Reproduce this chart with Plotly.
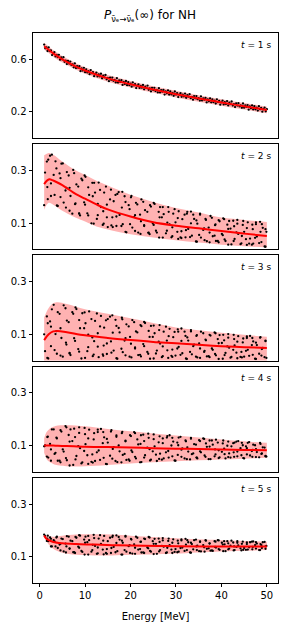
import plotly.graph_objects as go
from plotly.subplots import make_subplots

# ---------------- data ----------------
# panel 1 (t = 1 s): band / mean nodes
E_nodes1 = [1, 2, 3, 5, 8, 10, 15, 20, 25, 30, 35, 40, 45, 50]
mean1 = [0.700, 0.672, 0.645, 0.600, 0.545, 0.515, 0.455, 0.410, 0.370, 0.335, 0.302, 0.272, 0.243, 0.215]
lo1 = [0.675, 0.647, 0.620, 0.575, 0.520, 0.490, 0.430, 0.385, 0.345, 0.310, 0.277, 0.247, 0.218, 0.190]
up1 = [0.725, 0.697, 0.670, 0.625, 0.570, 0.540, 0.480, 0.435, 0.395, 0.360, 0.327, 0.297, 0.268, 0.240]

E_pts1 = [1.0, 1.25, 1.5, 1.75, 2.0, 2.25, 2.5, 2.75, 3.0, 3.25, 3.5, 3.75, 4.0, 4.25, 4.5, 4.75, 5.0, 5.25, 5.5, 5.75,
          6.0, 6.25, 6.5, 6.75, 7.0, 7.25, 7.5, 7.75, 8.0, 8.25, 8.5, 8.75, 9.0, 9.25, 9.5, 9.75, 10.0, 10.25, 10.5, 10.75,
          11.0, 11.25, 11.5, 11.75, 12.0, 12.25, 12.5, 12.75, 13.0, 13.25, 13.5, 13.75, 14.0, 14.25, 14.5, 14.75, 15.0, 15.25, 15.5, 15.75,
          16.0, 16.25, 16.5, 16.75, 17.0, 17.25, 17.5, 17.75, 18.0, 18.25, 18.5, 18.75, 19.0, 19.25, 19.5, 19.75, 20.0, 20.25, 20.5, 20.75,
          21.0, 21.25, 21.5, 21.75, 22.0, 22.25, 22.5, 22.75, 23.0, 23.25, 23.5, 23.75, 24.0, 24.25, 24.5, 24.75, 25.0, 25.25, 25.5, 25.75,
          26.0, 26.25, 26.5, 26.75, 27.0, 27.25, 27.5, 27.75, 28.0, 28.25, 28.5, 28.75, 29.0, 29.25, 29.5, 29.75, 30.0, 30.25, 30.5, 30.75,
          31.0, 31.25, 31.5, 31.75, 32.0, 32.25, 32.5, 32.75, 33.0, 33.25, 33.5, 33.75, 34.0, 34.25, 34.5, 34.75, 35.0, 35.25, 35.5, 35.75,
          36.0, 36.25, 36.5, 36.75, 37.0, 37.25, 37.5, 37.75, 38.0, 38.25, 38.5, 38.75, 39.0, 39.25, 39.5, 39.75, 40.0, 40.25, 40.5, 40.75,
          41.0, 41.25, 41.5, 41.75, 42.0, 42.25, 42.5, 42.75, 43.0, 43.25, 43.5, 43.75, 44.0, 44.25, 44.5, 44.75, 45.0, 45.25, 45.5, 45.75,
          46.0, 46.25, 46.5, 46.75, 47.0, 47.25, 47.5, 47.75, 48.0, 48.25, 48.5, 48.75, 49.0, 49.25, 49.5, 49.75, 50.0]
P_pts1 = [.712, .684, .690, .663, .690, .662, .667, .632, .646, .654, .622, .634, .616, .634, .597, .614, .599, .616, .581, .590,
          .564, .588, .568, .583, .556, .561, .539, .569, .534, .548, .535, .547, .510, .531, .514, .535, .502,
          .524, .500, .510, .487, .518, .494, .503, .472, .489, .499, .470, .485, .470, .490, .456, .475, .463, .481, .448, .458,
          .434, .461, .444, .461, .436, .443, .424, .456, .423, .439, .428, .441, .405, .428, .413, .435, .403,
          .426, .403, .414, .392, .424, .401, .411, .381, .399, .410, .382, .398, .384, .405, .372, .392, .381, .400, .368, .379,
          .356, .383, .366, .383, .359, .367, .348, .380, .348, .365, .354, .367, .332, .356, .341, .363, .332,
          .356, .333, .344, .322, .355, .332, .343, .313, .331, .342, .315, .331, .318, .339, .307, .327, .316, .335, .304, .315,
          .293, .320, .303, .320, .297, .304, .286, .318, .287, .303, .293, .306, .272, .295, .281, .303, .273,
          .296, .274, .285, .264, .296, .274, .284, .255, .273, .285, .257, .274, .260, .282, .249, .270, .259, .279, .248, .259,
          .237, .265, .248, .266, .242, .250, .231, .264, .232, .249, .238, .252, .217, .241, .227, .249, .219,
          .243, .220, .232, .210, .243, .220, .231, .202, .220, .232, .205, .221]

# sample energies shared by panels 2-5
E_a = [1.0, 1.6, 1.7, 2.3, 2.5, 3.1, 3.5, 3.8, 4.4, 4.6, 5.1, 5.7, 5.8, 6.4, 6.6, 7.2, 7.6, 7.9, 8.5, 8.7,
       9.2, 9.8, 9.9, 10.5, 10.7, 11.4, 11.7, 12.0, 12.6, 12.8, 13.3, 13.9, 14.0, 14.6, 14.8, 15.5, 15.8, 16.1, 16.7, 16.9,
       17.4, 18.0, 18.1, 18.7, 18.9, 19.6, 19.9, 20.2, 20.8, 21.0, 21.5, 22.1, 22.2, 22.8, 23.0, 23.7, 24.0, 24.3, 24.9, 25.1,
       25.6, 26.2, 26.3, 26.9, 27.1, 27.8, 28.1, 28.4, 29.0, 29.2, 29.7, 30.3, 30.4, 31.0, 31.2, 31.9, 32.2, 32.5, 33.1, 33.3,
       33.8, 34.4, 34.5, 35.1, 35.3, 36.0, 36.3, 36.6, 37.2, 37.4, 37.9, 38.5, 38.6, 39.2, 39.4, 40.1, 40.4, 40.7, 41.3, 41.5,
       42.0, 42.6, 42.7, 43.3, 43.5, 44.2, 44.5, 44.8, 45.4, 45.6, 46.1, 46.7, 46.8, 47.4, 47.6, 48.3, 48.6, 48.9, 49.5, 49.7]
E_b = [1.2, 1.8, 1.9, 2.5, 2.7, 3.3, 3.7, 4.0, 4.6, 4.8, 5.3, 5.9, 6.0, 6.6, 6.8, 7.4, 7.8, 8.1, 8.7, 8.9,
       9.4, 10.0, 10.1, 10.7, 10.9, 11.6, 11.9, 12.2, 12.8, 13.0, 13.5, 14.1, 14.2, 14.8, 15.0, 15.7, 16.0, 16.3, 16.9, 17.1,
       17.6, 18.2, 18.3, 18.9, 19.1, 19.8, 20.1, 20.4, 21.0, 21.2, 21.7, 22.3, 22.4, 23.0, 23.2, 23.9, 24.2, 24.5, 25.1, 25.3,
       25.8, 26.4, 26.5, 27.1, 27.3, 28.0, 28.3, 28.6, 29.2, 29.4, 29.9, 30.5, 30.6, 31.2, 31.4, 32.1, 32.4, 32.7, 33.3, 33.5,
       34.0, 34.6, 34.7, 35.3, 35.5, 36.2, 36.5, 36.8, 37.4, 37.6, 38.1, 38.7, 38.8, 39.4, 39.6, 40.3, 40.6, 40.9, 41.5, 41.7,
       42.2, 42.8, 42.9, 43.5, 43.7, 44.4, 44.7, 45.0, 45.6, 45.8, 46.3, 46.9, 47.0, 47.6, 47.8, 48.5, 48.8, 49.1, 49.7, 49.9]

# panel 2 (t = 2 s)
E_nodes2 = [1, 2, 3, 5, 8, 10, 12.5, 15, 20, 25, 30, 35, 40, 45, 50]
mean2 = [0.248, 0.266, 0.262, 0.244, 0.210, 0.193, 0.171, 0.152, 0.125, 0.103, 0.090, 0.080, 0.070, 0.060, 0.051]
lo2 = [0.151, 0.177, 0.170, 0.147, 0.120, 0.106, 0.087, 0.076, 0.058, 0.045, 0.035, 0.026, 0.018, 0.012, 0.007]
up2 = [0.358, 0.367, 0.360, 0.334, 0.300, 0.284, 0.261, 0.243, 0.208, 0.180, 0.157, 0.140, 0.121, 0.112, 0.104]
P2_a = [.168, .334, .237, .356, .203, .283, .335, .167, .289, .199, .327, .224, .159, .281, .234, .136, .290, .175, .239, .136,
        .269, .179, .281, .137, .236, .099, .202, .253, .116, .173, .226, .093, .145, .239, .122, .190, .091, .085, .207, .125,
        .218, .089, .159, .202, .067, .168, .096, .203, .123, .070, .171, .132, .059, .181, .092, .143, .064, .168, .099, .177,
        .071, .143, .045, .122, .161, .061, .102, .143, .046, .084, .153, .067, .119, .046, .043, .132, .073, .143, .047, .099,
        .132, .030, .110, .055, .136, .074, .035, .112, .083, .027, .120, .052, .092, .032, .111, .059, .118, .038, .094, .018,
        .079, .109, .032, .065, .098, .020, .051, .108, .039, .081, .022, .018, .094, .044, .103, .024, .067, .096, .011, .077]
P2_b = [.292, .191, .341, .251, .360, .207, .308, .165, .271, .326, .178, .234, .294, .147, .203, .302, .172, .247, .137, .129,
        .263, .170, .276, .129, .207, .253, .098, .216, .130, .254, .161, .098, .216, .170, .085, .227, .122, .183, .089, .211,
        .131, .219, .096, .180, .065, .153, .198, .083, .130, .177, .064, .107, .190, .089, .149, .063, .058, .163, .093, .173,
        .064, .122, .161, .045, .134, .071, .161, .095, .050, .136, .103, .040, .145, .069, .115, .046, .136, .078, .144, .052,
        .116, .029, .098, .132, .045, .080, .116, .031, .064, .127, .050, .095, .032, .027, .107, .054, .115, .032, .078, .108,
        .019, .088, .040, .112, .059, .023, .093, .067, .017, .103, .041, .077, .022, .096, .049, .105, .028, .082, .010, .067]

# panel 3 (t = 3 s)
E_nodes3 = [1, 2, 3, 4, 6, 10, 15, 20, 25, 30, 35, 40, 45, 50]
mean3 = [0.078, 0.100, 0.111, 0.113, 0.108, 0.096, 0.086, 0.078, 0.071, 0.066, 0.060, 0.055, 0.051, 0.048]
lo3 = [-0.03, -0.03, -0.03, -0.03, -0.03, -0.03, -0.03, -0.03, -0.03, -0.03, -0.03, -0.03, -0.03, -0.03]
up3 = [0.164, 0.200, 0.218, 0.222, 0.215, 0.195, 0.178, 0.161, 0.143, 0.126, 0.115, 0.106, 0.098, 0.091]
P3_a = [.100, .168, .010, .149, .055, .212, .101, .026, .178, .123, .015, .199, .068, .146, .029, .184, .085, .202, .044, .154,
        .008, .123, .183, .036, .099, .158, .017, .074, .179, .053, .130, .024, .018, .153, .065, .167, .030, .106, .155, .009,
        .124, .045, .163, .076, .020, .130, .090, .012, .146, .050, .107, .022, .135, .063, .147, .033, .113, .007, .090, .133,
        .027, .072, .116, .013, .054, .129, .039, .093, .018, .014, .109, .046, .119, .022, .075, .110, .008, .088, .033, .116,
        .055, .015, .094, .065, .010, .104, .037, .077, .017, .098, .046, .107, .025, .082, .006, .067, .098, .021, .054, .087,
        .011, .041, .098, .030, .072, .014, .012, .084, .037, .092, .018, .059, .086, .007, .068, .026, .089, .044, .013, .074]
P3_b = [.036, .142, .008, .129, .195, .040, .112, .184, .019, .086, .210, .061, .152, .027, .021, .178, .075, .196, .034, .123,
        .180, .010, .142, .051, .187, .088, .023, .151, .104, .013, .170, .057, .125, .025, .158, .073, .172, .038, .132, .007,
        .107, .157, .032, .085, .138, .015, .064, .154, .046, .111, .021, .016, .131, .055, .143, .026, .090, .132, .008, .104,
        .038, .135, .065, .017, .110, .076, .010, .121, .042, .089, .019, .110, .052, .122, .028, .094, .006, .076, .111, .024,
        .061, .097, .012, .046, .110, .033, .080, .016, .013, .095, .041, .104, .020, .066, .097, .007, .077, .029, .101, .049,
        .014, .082, .058, .009, .093, .033, .069, .015, .086, .041, .094, .022, .073, .006, .059, .087, .019, .048, .076, .010]

# panel 4 (t = 4 s)
E_nodes4 = [1, 1.5, 2, 3, 4, 6, 10, 15, 20, 25, 30, 35, 40, 45, 50]
mean4 = [0.100, 0.100, 0.100, 0.100, 0.099, 0.098, 0.095, 0.094, 0.092, 0.090, 0.088, 0.087, 0.085, 0.083, 0.082]
lo4 = [0.072, 0.050, 0.040, 0.030, 0.025, 0.021, 0.021, 0.026, 0.032, 0.036, 0.040, 0.044, 0.047, 0.050, 0.053]
up4 = [0.128, 0.150, 0.160, 0.171, 0.176, 0.177, 0.173, 0.163, 0.154, 0.146, 0.138, 0.130, 0.123, 0.116, 0.110]
P4_a = [.097, .058, .132, .106, .042, .161, .072, .127, .042, .158, .085, .174, .052, .140, .024, .117, .164, .047, .098, .148,
        .032, .079, .167, .063, .127, .038, .035, .147, .074, .160, .045, .109, .151, .030, .125, .061, .158, .087, .041, .133,
        .100, .036, .147, .068, .116, .047, .139, .081, .151, .057, .123, .036, .106, .141, .054, .092, .129, .043, .078, .142,
        .065, .112, .049, .046, .127, .074, .136, .054, .100, .129, .043, .111, .064, .133, .084, .051, .116, .093, .047, .126,
        .070, .103, .054, .120, .078, .127, .062, .108, .048, .096, .119, .059, .085, .111, .052, .076, .119, .067, .099, .056,
        .054, .109, .074, .115, .059, .090, .110, .052, .097, .066, .113, .079, .057, .101, .086, .055, .106, .070, .092, .060]
P4_b = [.100, .134, .054, .085, .161, .068, .130, .042, .036, .153, .077, .169, .044, .115, .161, .026, .132, .060, .169, .090,
        .036, .143, .105, .030, .160, .066, .123, .041, .151, .081, .163, .053, .131, .029, .111, .153, .050, .094, .138, .037,
        .078, .152, .064, .118, .045, .042, .136, .075, .147, .051, .104, .139, .037, .117, .063, .145, .086, .046, .124, .097,
        .041, .135, .069, .109, .051, .130, .079, .139, .059, .115, .042, .101, .130, .057, .089, .119, .048, .077, .129, .067,
        .105, .054, .051, .117, .074, .125, .057, .095, .119, .048, .103, .066, .122, .082, .055, .108, .088, .051, .115, .070,
        .097, .057, .111, .077, .117, .063, .101, .051, .090, .110, .062, .083, .103, .056, .075, .110, .068, .093, .059, .058]

# panel 5 (t = 5 s)
E_nodes5 = [1, 1.5, 2, 3, 5, 8, 12, 16, 20, 26, 30, 40, 50]
mean5 = [0.181, 0.168, 0.163, 0.156, 0.151, 0.148, 0.146, 0.144, 0.143, 0.141, 0.140, 0.139, 0.139]
lo5 = [0.176, 0.160, 0.146, 0.130, 0.115, 0.107, 0.105, 0.105, 0.107, 0.109, 0.112, 0.120, 0.125]
up5 = [0.184, 0.180, 0.178, 0.176, 0.180, 0.184, 0.185, 0.184, 0.180, 0.174, 0.170, 0.163, 0.157]
P5_a = [.184, .160, .169, .173, .139, .163, .139, .176, .146, .124, .167, .150, .116, .176, .132, .159, .117, .175, .138, .182,
        .122, .165, .108, .155, .179, .119, .145, .171, .111, .135, .182, .127, .161, .114, .111, .172, .133, .180, .117, .152,
        .175, .108, .161, .125, .179, .140, .114, .165, .147, .111, .172, .129, .156, .116, .169, .135, .175, .122, .159, .110,
        .149, .169, .120, .141, .162, .114, .134, .169, .127, .153, .118, .117, .161, .133, .166, .122, .146, .163, .116, .153,
        .128, .165, .139, .121, .156, .144, .119, .161, .132, .150, .124, .159, .137, .163, .129, .153, .121, .147, .159, .128,
        .142, .154, .124, .137, .159, .132, .149, .126, .126, .154, .136, .157, .128, .144, .155, .125, .148, .133, .156, .139]
P5_b = [.179, .180, .159, .168, .139, .158, .173, .133, .149, .169, .120, .139, .178, .130, .161, .117, .114, .172, .134, .180,
        .118, .153, .176, .108, .163, .125, .183, .141, .113, .169, .149, .109, .179, .129, .159, .114, .175, .137, .181, .121,
        .165, .108, .153, .176, .119, .144, .168, .112, .134, .176, .127, .157, .116, .114, .167, .132, .173, .119, .149, .168,
        .111, .156, .125, .171, .138, .116, .160, .144, .114, .166, .129, .151, .119, .162, .135, .168, .125, .155, .115, .148,
        .163, .125, .142, .158, .120, .136, .163, .130, .151, .123, .122, .157, .135, .162, .126, .146, .159, .121, .151, .131,
        .161, .139, .125, .153, .143, .124, .157, .133, .148, .127, .155, .137, .158, .131, .150, .125, .144, .155, .130, .141]

times = [1, 2, 3, 4, 5]
x_ticks = [0, 10, 20, 30, 40, 50]

# ---------------- figure ----------------
panels = [
    (E_nodes1, lo1, up1, mean1, [(E_pts1, P_pts1)]),
    (E_nodes2, lo2, up2, mean2, [(E_a, P2_a), (E_b, P2_b)]),
    (E_nodes3, lo3, up3, mean3, [(E_a, P3_a), (E_b, P3_b)]),
    (E_nodes4, lo4, up4, mean4, [(E_a, P4_a), (E_b, P4_b)]),
    (E_nodes5, lo5, up5, mean5, [(E_a, P5_a), (E_b, P5_b)]),
]

fig = make_subplots(rows=5, cols=1, shared_xaxes=True, vertical_spacing=6 / 550)

FONT = "DejaVu Sans"
for i, (En, lo, up, mn, pts) in enumerate(panels):
    r = i + 1
    fig.add_trace(go.Scatter(x=En, y=lo, mode="lines", line=dict(width=0, shape="spline"),
                             hoverinfo="skip", showlegend=False), row=r, col=1)
    fig.add_trace(go.Scatter(x=En, y=up, mode="lines", line=dict(width=0, shape="spline"),
                             fill="tonexty", fillcolor="rgba(255,0,0,0.3)",
                             hoverinfo="skip", showlegend=False), row=r, col=1)
    for ex, py in pts:
        fig.add_trace(go.Scatter(x=ex, y=py, mode="markers",
                                 marker=dict(size=2.3, color="black", line=dict(width=0)),
                                 showlegend=False), row=r, col=1)
    fig.add_trace(go.Scatter(x=En, y=mn, mode="lines", line=dict(color="red", width=2, shape="spline"),
                             showlegend=False), row=r, col=1)
    xr = "x domain" if r == 1 else f"x{r} domain"
    yr = "y domain" if r == 1 else f"y{r} domain"
    fig.add_annotation(text=f"<i>t</i> = {times[i]} s", xref=xr, yref=yr, x=0.98, y=0.89,
                       xanchor="right", yanchor="middle", showarrow=False,
                       font=dict(family=FONT, size=9, color="black"))

axis_common = dict(showline=True, mirror=True, linecolor="black", linewidth=0.8,
                   showgrid=False, zeroline=False)
fig.update_xaxes(range=[-1.45, 52.45], tickvals=x_ticks, ticks="", **axis_common)
fig.update_xaxes(row=5, col=1, ticks="outside", ticklen=3.5, tickwidth=0.8, tickcolor="black",
                 showticklabels=True, tickfont=dict(family=FONT, size=10, color="black"),
                 title=dict(text="Energy [MeV]", font=dict(family=FONT, size=10, color="black"), standoff=12))
fig.update_yaxes(ticks="outside", ticklen=3.5, tickwidth=0.8, tickcolor="black",
                 tickfont=dict(family=FONT, size=10, color="black"), **axis_common)
fig.update_yaxes(row=1, col=1, range=[0, 0.8], tickvals=[0.2, 0.6], ticktext=["0.2", "0.6"])
for r in range(2, 6):
    fig.update_yaxes(row=r, col=1, range=[0, 0.4], tickvals=[0.1, 0.3], ticktext=["0.1", "0.3"])

fig.update_layout(
    width=287, height=630,
    margin=dict(l=33, r=9, t=33, b=47),
    paper_bgcolor="white", plot_bgcolor="white",
    font=dict(family=FONT, color="black"),
    title=dict(text="<i>P</i><sub>ν̄ₑ→ν̄ₑ</sub>(∞) for NH", x=150 / 287, xanchor="center",
               y=1 - 15 / 630, yanchor="middle", font=dict(family=FONT, size=12, color="black")),
    showlegend=False,
)

fig.write_html("out.html", config={"displayModeBar": False},
               post_script="document.body.style.margin='0';document.body.style.overflow='hidden';")
